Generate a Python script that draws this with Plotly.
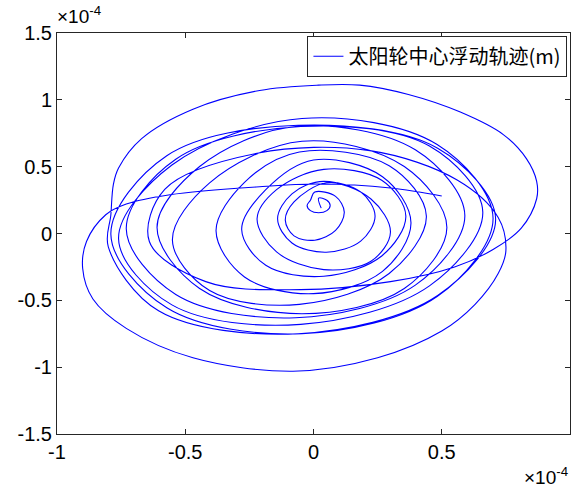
import plotly.graph_objects as go

# Trajectory of the sun-gear centre (units of 1e-4 m), read loop by loop from the picture
traj_x = [
    0.03,
    0.02, 0.052, 0.065, 0.052, 0.02, -0.012, -0.025, -0.012,
    0.005, 0.086, 0.12, 0.086, 0.005, -0.076, -0.11, -0.076,
    0.05, 0.184, 0.24, 0.184, 0.05, -0.084, -0.14, -0.084,
    0.04, 0.224, 0.30, 0.224, 0.04, -0.144, -0.22, -0.144,
    0.04, 0.266, 0.36, 0.266, 0.04, -0.186, -0.28, -0.186,
    0.0, 0.269, 0.38, 0.269, 0.0, -0.269, -0.38, -0.269,
    -0.055, 0.295, 0.44, 0.295, -0.055, -0.405, -0.55, -0.405,
    -0.045, 0.354, 0.52, 0.354, -0.045, -0.444, -0.61, -0.444,
    -0.07, 0.397, 0.59, 0.397, -0.07, -0.537, -0.73, -0.537,
    -0.05, 0.452, 0.66, 0.452, -0.05, -0.552, -0.76, -0.552,
    -0.045, 0.482, 0.70, 0.482, -0.045, -0.572, -0.79, -0.572,
    -0.06, 0.484, 0.71, 0.484, -0.06, -0.604, -0.80, -0.79,
    -0.78, -0.76, -0.67, -0.47, -0.21, 0.02, 0.18, 0.37, 0.57, 0.74, 0.83, 0.87, 0.87,
    0.81, 0.70, 0.55, 0.30,
    -0.05, -0.42, -0.64, -0.58, -0.22, 0.22, 0.56, 0.72, 0.75,
    0.72, 0.63, 0.50, 0.25, -0.08, -0.47, -0.73, -0.86, -0.90, -0.885,
    -0.81, -0.73, -0.56, -0.21, 0.02, 0.30, 0.50,
]
traj_y = [
    0.19,
    0.265, 0.249, 0.21, 0.171, 0.155, 0.171, 0.21, 0.249,
    0.31, 0.278, 0.16, 0.024, -0.05, -0.018, 0.10, 0.236,
    0.38, 0.311, 0.13, -0.057, -0.14, -0.071, 0.11, 0.297,
    0.39, 0.258, 0.01, -0.208, -0.27, -0.138, 0.11, 0.328,
    0.48, 0.398, 0.13, -0.168, -0.32, -0.238, 0.03, 0.328,
    0.55, 0.425, 0.08, -0.283, -0.45, -0.325, 0.02, 0.383,
    0.61, 0.507, 0.13, -0.299, -0.53, -0.427, -0.05, 0.379,
    0.69, 0.501, 0.045, -0.411, -0.60, -0.411, 0.045, 0.501,
    0.80, 0.626, 0.135, -0.386, -0.63, -0.456, 0.035, 0.556,
    0.80, 0.654, 0.16, -0.392, -0.68, -0.534, -0.04, 0.512,
    0.86, 0.666, 0.115, -0.472, -0.75, -0.556, -0.005, 0.582,
    0.81, 0.638, 0.11, -0.464, -0.75, -0.578, -0.10, 0.14,
    0.37, 0.49, 0.71, 0.93, 1.07, 1.11, 1.11, 1.04, 0.91, 0.74, 0.56, 0.39, 0.26,
    0.04, -0.12, -0.25, -0.36,
    -0.42, -0.36, -0.06, 0.33, 0.60, 0.62, 0.40, 0.12, -0.13,
    -0.30, -0.53, -0.73, -0.93, -1.03, -0.93, -0.71, -0.49, -0.26, -0.06,
    0.14, 0.22, 0.29, 0.35, 0.37, 0.34, 0.28,
]

x_ticks = [-1, -0.5, 0, 0.5, 1]
x_labels = ["-1", "-0.5", "0", "0.5", "1"]
y_ticks = [-1.5, -1, -0.5, 0, 0.5, 1, 1.5]
y_labels = ["-1.5", "-1", "-0.5", "0", "0.5", "1", "1.5"]
legend_name = "太阳轮中心浮动轨迹(m)"
exp_label = "×10<sup>-4</sup>"

fig = go.Figure()
fig.add_trace(go.Scatter(
    x=traj_x, y=traj_y, mode="lines", name=legend_name,
    line=dict(color="#0000ff", width=1.1, shape="spline", smoothing=1.0),
))

axis_common = dict(
    showgrid=False, zeroline=False, showline=True, linecolor="#262626", linewidth=1,
    mirror="ticks", ticks="inside", ticklen=5, tickcolor="#262626",
    tickfont=dict(family="Liberation Sans, Arial", size=20, color="black"),
)
fig.update_xaxes(range=[-1, 1], tickvals=x_ticks, ticktext=x_labels, **axis_common)
fig.update_yaxes(range=[-1.5, 1.5], tickvals=y_ticks, ticktext=y_labels, **axis_common)

fig.add_annotation(xref="paper", yref="paper", x=0.0, y=1.0, xanchor="left", yanchor="middle",
                   text=exp_label, showarrow=False, yshift=18, xshift=-2,
                   font=dict(family="Liberation Sans, Arial", size=19, color="black"))
fig.add_annotation(xref="paper", yref="paper", x=1.0, y=0.0, xanchor="right", yanchor="middle",
                   text=exp_label, showarrow=False, yshift=-42,
                   font=dict(family="Liberation Sans, Arial", size=19, color="black"))

fig.update_layout(
    width=571, height=492,
    margin=dict(l=57, r=1, t=33, b=58),
    paper_bgcolor="white", plot_bgcolor="white",
    showlegend=True,
    legend=dict(x=0.995, y=0.993, xanchor="right", yanchor="top", bgcolor="white",
                bordercolor="#262626", borderwidth=1,
                font=dict(family="Noto Sans CJK SC", size=20, color="black"),
                itemwidth=30, tracegroupgap=0),
)

fig.write_html("out.html", config={"displayModeBar": False},
               post_script="document.body.style.margin='0px';document.body.style.overflow='hidden';")
